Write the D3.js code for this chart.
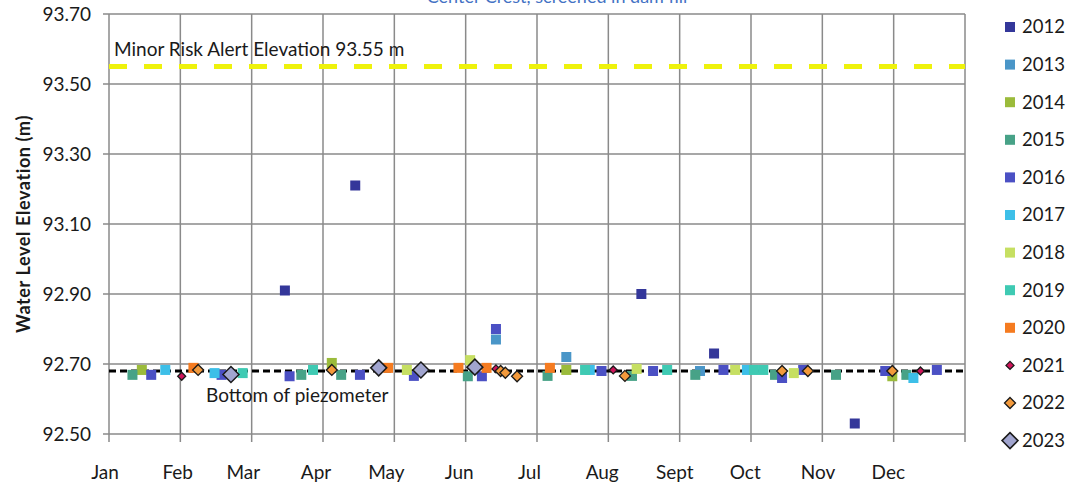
<!DOCTYPE html>
<html>
<head>
<meta charset="utf-8">
<script src="https://cdn.jsdelivr.net/npm/d3@7"></script>
<style>
  body { margin: 0; background: #fff; }
  svg text { font-family: Lato, "Open Sans", sans-serif; fill: #1a1a1a; }
</style>
</head>
<body>
<svg id="chart" width="1088" height="485"></svg>
<script>
// readings per year: [month-day, water level (m)]
var y2012 = [["03-17", 92.91], ["04-16", 93.21], ["08-16", 92.90], ["09-16", 92.73], ["11-15", 92.53]];
var y2013 = [["06-15", 92.77], ["07-15", 92.72], ["09-10", 92.68]];
var y2014 = [["01-15", 92.683], ["04-06", 92.703], ["07-15", 92.683], ["12-01", 92.665]];
var y2015 = [["01-11", 92.669], ["03-24", 92.669], ["04-10", 92.669], ["06-03", 92.665], ["07-07", 92.666], ["08-12", 92.666], ["09-08", 92.669], ["10-12", 92.669], ["11-07", 92.669], ["12-07", 92.669]];
var y2016 = [["01-19", 92.669], ["02-18", 92.669], ["03-19", 92.665], ["04-18", 92.669], ["05-11", 92.666], ["06-09", 92.665], ["06-15", 92.80], ["07-30", 92.68], ["08-21", 92.68], ["09-20", 92.683], ["10-15", 92.66], ["10-24", 92.683], ["11-28", 92.68], ["12-20", 92.683]];
var y2017 = [["01-25", 92.683], ["02-15", 92.674], ["07-25", 92.683], ["09-30", 92.683], ["12-10", 92.66]];
var y2018 = [["05-08", 92.683], ["06-04", 92.711], ["08-14", 92.686], ["09-25", 92.683], ["10-20", 92.674]];
var y2019 = [["02-27", 92.674], ["03-29", 92.683], ["07-23", 92.683], ["08-27", 92.683], ["10-07", 92.683], ["10-03", 92.683]];
var y2020 = [["02-06", 92.689], ["04-30", 92.689], ["05-30", 92.689], ["06-11", 92.689], ["07-08", 92.689]];
var y2021 = [["02-01", 92.665], ["06-15", 92.686], ["08-04", 92.683], ["12-13", 92.68]];
var y2022 = [["02-08", 92.683], ["04-06", 92.683], ["06-17", 92.68], ["06-19", 92.675], ["06-24", 92.665], ["08-09", 92.666], ["10-15", 92.68], ["10-26", 92.68], ["12-01", 92.68]];
var y2023 = [["02-22", 92.67], ["04-26", 92.689], ["05-14", 92.683], ["06-06", 92.691]];

var years = ["2012", "2013", "2014", "2015", "2016", "2017", "2018", "2019", "2020", "2021", "2022", "2023"];
var yearData = [y2012, y2013, y2014, y2015, y2016, y2017, y2018, y2019, y2020, y2021, y2022, y2023];
var colors = ["#34379a", "#4a96c8", "#9bbb3b", "#47a287", "#4b50c4", "#3dbfe8", "#c6df62", "#3fcab3", "#f57b20", "#d0145a", "#f39a3c", "#a1a5cf"];
var shapes = ["sq", "sq", "sq", "sq", "sq", "sq", "sq", "sq", "sq", "dia", "dia", "dia"];

var monthLabels = ["Jan", "Feb", "Mar", "Apr", "May", "Jun", "Jul", "Aug", "Sept", "Oct", "Nov", "Dec"];
var yTicks = [92.5, 92.7, 92.9, 93.1, 93.3, 93.5, 93.7];
var alertLevel = 93.55;
var bottomLevel = 92.68;
var title = "Center Crest, screened in dam fill";

var svg = d3.select("#chart");
var pLeft = 109, pRight = 965, pTop = 14, pBottom = 434;

var t0 = new Date(2021, 0, 1), t1 = new Date(2022, 0, 1);
var x = d3.scaleTime().domain([t0, t1]).range([pLeft, pRight]);
var y = d3.scaleLinear().domain([92.5, 93.7]).range([pBottom, pTop]);
var parse = function(md) { return new Date("2021-" + md + "T00:00:00"); };

// equal spaced vertical gridlines (12 intervals)
var gridDates = d3.range(13).map(function(i) { return new Date(+t0 + i * (t1 - t0) / 12); });

svg.append("g").selectAll("line.hg")
  .data(yTicks).enter().append("line")
  .attr("x1", pLeft - 6).attr("x2", pRight)
  .attr("y1", function(d) { return y(d); }).attr("y2", function(d) { return y(d); })
  .attr("stroke", "#8a8a8a").attr("stroke-width", 1.5);

svg.append("g").selectAll("line.vg")
  .data(gridDates).enter().append("line")
  .attr("x1", function(d) { return x(d); }).attr("x2", function(d) { return x(d); })
  .attr("y1", pTop).attr("y2", pBottom + 8)
  .attr("stroke", "#8a8a8a").attr("stroke-width", 1.5);

// y tick labels
svg.append("g").selectAll("text")
  .data(yTicks).enter().append("text")
  .attr("x", 91).attr("y", function(d) { return y(d); })
  .attr("dy", "0.35em").attr("text-anchor", "end")
  .style("font-size", "19px")
  .text(d3.format(".2f"));

// month labels
svg.append("g").selectAll("text")
  .data(monthLabels).enter().append("text")
  .attr("x", function(d, i) { return x(new Date(2021, i, 1)) - 4; })
  .attr("y", 479)
  .attr("text-anchor", "middle")
  .style("font-size", "19px")
  .text(function(d) { return d; });

svg.append("text")
  .attr("transform", "translate(30," + ((pTop + pBottom) / 2) + ") rotate(-90)")
  .attr("text-anchor", "middle")
  .style("font-size", "18px").style("font-weight", "bold")
  .style("letter-spacing", "0.6px")
  .text("Water Level Elevation (m)");

svg.append("text")
  .attr("x", 557).attr("y", 3)
  .attr("text-anchor", "middle")
  .style("font-size", "18px").style("fill", "#4472c4")
  .text(title);

// reference lines
svg.append("line")
  .attr("x1", pLeft).attr("x2", pRight)
  .attr("y1", y(alertLevel)).attr("y2", y(alertLevel))
  .attr("stroke", "#eef20c").attr("stroke-width", 5)
  .attr("stroke-dasharray", "18,17");
svg.append("text")
  .attr("x", 114).attr("y", 56)
  .style("font-size", "19px")
  .text("Minor Risk Alert Elevation 93.55 m");

svg.append("line")
  .attr("x1", pLeft).attr("x2", pRight)
  .attr("y1", y(bottomLevel)).attr("y2", y(bottomLevel))
  .attr("stroke", "#000").attr("stroke-width", 3)
  .attr("stroke-dasharray", "7,4");
svg.append("text")
  .attr("x", 206).attr("y", 402)
  .style("font-size", "19px")
  .text("Bottom of piezometer");

// markers
function drawMarker(g, shape, cx, cy, i) {
  if (shape == "sq") {
    g.append("rect")
      .attr("x", cx - 5).attr("y", cy - 5)
      .attr("width", 10).attr("height", 10)
      .attr("fill", colors[i]);
  } else {
    var r = i == 9 ? 4 : (i == 10 ? 5.5 : 8);
    g.append("path")
      .attr("d", "M" + cx + "," + (cy - r) + "L" + (cx + r) + "," + cy + "L" + cx + "," + (cy + r) + "L" + (cx - r) + "," + cy + "Z")
      .attr("fill", colors[i])
      .attr("stroke", "#1a1a1a").attr("stroke-width", i == 11 ? 1.5 : 1.3);
  }
}

var pts = svg.append("g");
yearData.forEach(function(rows, i) {
  rows.forEach(function(r) {
    drawMarker(pts, shapes[i], x(parse(r[0])), y(r[1]), i);
  });
});

// legend
var leg = svg.append("g");
years.forEach(function(yr, i) {
  var ly = 27 + i * 37.6;
  drawMarker(leg, shapes[i], 1010, ly, i);
  leg.append("text")
    .attr("x", 1022).attr("y", ly).attr("dy", "0.35em")
    .style("font-size", "18.5px")
    .text(yr);
});
</script>
</body>
</html>
